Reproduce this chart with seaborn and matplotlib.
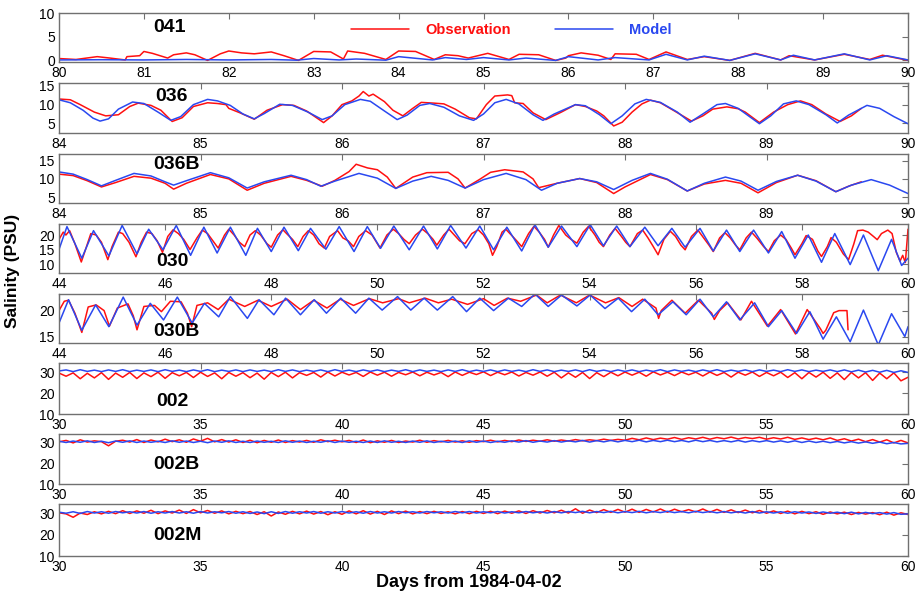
import matplotlib

matplotlib.use("Agg")
import matplotlib.pyplot as plt
import numpy as np
import pandas as pd
import seaborn as sns

# Style
sns.set_style("white")
plt.rcParams["font.family"] = ["Liberation Sans", "DejaVu Sans"]
plt.rcParams["text.color"] = "black"
plt.rcParams["axes.labelcolor"] = "black"
plt.rcParams["xtick.color"] = "black"
plt.rcParams["ytick.color"] = "black"

OBS_COLOR = "#ff1010"
MOD_COLOR = "#2a48f0"
FRAME_COLOR = "#707070"

# ---------------------------------------------------------------
# Data: (day, salinity) vertices
# ---------------------------------------------------------------
OBS_041 = [(80.0, 0.4), (80.2, 0.2), (80.45, 0.8), (80.6, 0.5), (80.78, 0.1), (80.8, 0.8),
           (80.95, 1.0), (81.0, 1.9), (81.1, 1.5), (81.28, 0.5), (81.35, 1.2), (81.5, 1.6),
           (81.6, 1.2), (81.75, 0.0), (81.9, 1.4), (82.0, 2.0), (82.15, 1.6), (82.3, 1.4),
           (82.5, 1.8), (82.65, 1.0), (82.82, 0.0), (83.0, 1.9), (83.2, 1.8), (83.35, 0.3),
           (83.4, 2.0), (83.6, 1.5), (83.85, 0.2), (84.0, 2.0), (84.2, 1.9), (84.42, 0.2),
           (84.55, 1.2), (84.7, 1.0), (84.82, 0.5), (85.05, 1.5), (85.3, 0.2), (85.42, 1.3),
           (85.65, 1.2), (85.85, 0.0), (85.97, 0.5), (86.0, 1.0), (86.15, 1.6), (86.35, 1.1),
           (86.5, 0.2), (86.55, 1.4), (86.8, 1.3), (86.95, 0.2), (87.15, 1.8), (87.4, 0.2),
           (87.6, 0.8), (87.9, 0.0), (88.2, 1.5), (88.5, 0.1), (88.6, 1.0), (88.9, 0.1),
           (89.25, 1.3), (89.55, 0.2), (89.7, 1.1), (89.95, 0.2), (90.0, 0.1)]
MOD_041 = [(80.0, 0.1), (80.5, 0.15), (81.0, 0.1), (81.5, 0.2), (82.0, 0.1), (82.5, 0.2),
           (82.8, 0.05), (83.0, 0.4), (83.3, 0.1), (83.5, 0.3), (83.85, 0.05), (84.0, 0.8),
           (84.4, 0.1), (84.55, 0.6), (84.8, 0.2), (85.0, 0.6), (85.3, 0.1), (85.5, 0.5),
           (85.85, 0.0), (86.0, 0.8), (86.35, 0.1), (86.55, 0.6), (86.95, 0.1), (87.15, 1.3),
           (87.4, 0.1), (87.6, 0.9), (87.9, 0.0), (88.2, 1.4), (88.5, 0.1), (88.65, 1.1),
           (88.9, 0.1), (89.25, 1.4), (89.55, 0.1), (89.75, 1.0), (90.0, 0.1)]

OBS_036 = [(84.0, 11.5), (84.08, 11.3), (84.15, 10.0), (84.25, 8.0), (84.33, 7.0), (84.42, 7.3),
           (84.5, 9.5), (84.56, 10.4), (84.65, 9.8), (84.72, 8.5), (84.8, 5.5), (84.87, 6.5),
           (84.95, 9.5), (85.05, 10.5), (85.12, 10.3), (85.18, 10.0), (85.2, 9.0), (85.28, 7.8),
           (85.38, 6.1), (85.47, 8.5), (85.58, 10.0), (85.66, 9.8), (85.75, 8.3), (85.87, 5.2),
           (85.93, 7.0), (86.0, 10.0), (86.07, 11.0), (86.12, 12.3), (86.15, 13.5), (86.19, 12.3),
           (86.22, 12.8), (86.3, 10.8), (86.36, 8.5), (86.43, 7.0), (86.5, 9.0), (86.56, 10.6),
           (86.65, 10.4), (86.72, 10.2), (86.8, 8.8), (86.9, 6.5), (86.95, 6.2), (87.02, 10.0),
           (87.08, 12.3), (87.17, 12.6), (87.2, 12.4), (87.22, 10.5), (87.28, 10.3), (87.35, 7.8),
           (87.44, 6.0), (87.55, 8.0), (87.65, 10.0), (87.72, 9.5), (87.8, 8.3), (87.85, 7.0),
           (87.92, 4.3), (87.98, 5.3), (88.05, 8.0), (88.12, 10.2), (88.18, 11.2), (88.25, 10.5),
           (88.35, 8.3), (88.47, 5.6), (88.55, 7.0), (88.62, 8.8), (88.72, 9.4), (88.8, 8.9),
           (88.85, 8.0), (88.95, 5.2), (89.05, 8.0), (89.15, 10.0), (89.24, 11.0), (89.32, 10.0),
           (89.42, 7.5), (89.52, 5.5), (89.6, 7.0), (89.67, 9.0)]
MOD_036 = [(84.0, 11.3), (84.08, 10.5), (84.17, 8.5), (84.24, 6.4), (84.29, 5.6), (84.35, 6.2),
           (84.42, 8.8), (84.52, 10.7), (84.6, 10.3), (84.7, 8.0), (84.79, 5.8), (84.86, 6.8),
           (84.95, 10.0), (85.05, 11.4), (85.12, 11.0), (85.21, 9.8), (85.3, 7.5), (85.38, 6.2),
           (85.45, 7.6), (85.56, 10.1), (85.65, 9.8), (85.76, 8.0), (85.86, 6.0), (85.93, 7.0),
           (86.02, 10.0), (86.13, 11.4), (86.2, 10.9), (86.3, 8.3), (86.39, 6.0), (86.46, 7.2),
           (86.55, 9.8), (86.62, 10.3), (86.72, 9.3), (86.83, 7.0), (86.93, 5.8), (87.0, 7.5),
           (87.08, 10.5), (87.16, 11.4), (87.25, 10.2), (87.35, 7.3), (87.42, 5.8), (87.5, 7.5),
           (87.65, 10.0), (87.72, 9.7), (87.82, 7.3), (87.9, 4.9), (87.98, 7.0), (88.07, 10.2),
           (88.15, 11.4), (88.25, 10.6), (88.37, 8.0), (88.46, 5.3), (88.55, 7.5), (88.65, 10.0),
           (88.71, 10.3), (88.8, 9.0), (88.88, 6.8), (88.95, 4.9), (89.03, 7.0), (89.12, 10.2),
           (89.21, 11.0), (89.3, 10.0), (89.42, 7.3), (89.5, 5.1), (89.58, 7.2), (89.71, 9.8),
           (89.8, 9.0), (89.9, 6.8), (90.0, 4.9)]

OBS_036B = [(84.0, 11.3), (84.1, 10.9), (84.2, 9.5), (84.3, 7.8), (84.4, 9.0), (84.53, 10.7),
            (84.65, 10.2), (84.75, 8.8), (84.81, 7.2), (84.9, 8.8), (85.07, 11.2), (85.2, 10.0),
            (85.33, 6.9), (85.45, 8.8), (85.64, 10.7), (85.75, 9.6), (85.86, 8.0), (85.95, 9.6),
            (86.05, 12.0), (86.1, 14.0), (86.18, 13.0), (86.25, 12.5), (86.32, 10.5), (86.38, 7.4),
            (86.5, 10.5), (86.6, 11.7), (86.75, 11.8), (86.82, 10.0), (86.87, 7.5), (86.97, 9.8),
            (87.05, 11.8), (87.15, 12.5), (87.28, 11.9), (87.35, 10.0), (87.39, 7.6), (87.52, 8.8),
            (87.68, 10.1), (87.8, 9.0), (87.88, 7.0), (87.92, 6.0), (88.0, 7.8), (88.18, 11.2),
            (88.3, 9.8), (88.44, 6.7), (88.56, 8.6), (88.71, 9.6), (88.82, 8.8), (88.94, 6.2),
            (89.07, 9.0), (89.22, 11.0), (89.35, 9.5), (89.49, 6.5), (89.58, 8.0), (89.67, 9.2)]
MOD_036B = [(84.0, 11.9), (84.1, 11.3), (84.2, 9.8), (84.3, 8.1), (84.4, 9.6), (84.53, 11.5),
            (84.65, 10.8), (84.75, 9.2), (84.81, 8.3), (84.9, 9.5), (85.07, 11.7), (85.2, 10.3),
            (85.33, 7.5), (85.45, 9.2), (85.64, 11.0), (85.75, 9.8), (85.85, 8.0), (85.95, 9.4),
            (86.12, 11.5), (86.25, 10.2), (86.38, 7.4), (86.5, 9.4), (86.63, 10.7), (86.75, 9.6),
            (86.87, 7.5), (87.0, 9.8), (87.16, 11.5), (87.3, 9.8), (87.41, 6.9), (87.52, 8.8),
            (87.68, 10.1), (87.8, 9.2), (87.92, 7.1), (88.05, 9.6), (88.18, 11.5), (88.3, 9.9),
            (88.44, 6.7), (88.56, 8.8), (88.71, 10.5), (88.82, 9.4), (88.94, 6.9), (89.07, 9.3),
            (89.22, 11.0), (89.35, 9.4), (89.49, 6.5), (89.6, 8.3), (89.74, 9.8), (89.87, 8.3),
            (90.0, 6.0)]

OBS_030 = [(44.0, 18.5), (44.08, 21.0), (44.13, 20.0), (44.2, 21.5), (44.3, 17.0), (44.42, 10.7),
           (44.5, 15.0), (44.6, 20.5), (44.7, 20.0), (44.8, 17.5), (44.92, 11.5), (45.0, 16.0),
           (45.12, 21.0), (45.2, 20.5), (45.32, 17.5), (45.45, 12.5), (45.55, 17.5), (45.65, 21.0),
           (45.75, 20.5), (45.85, 18.0), (45.95, 14.0), (46.05, 19.5), (46.15, 21.8), (46.25, 20.5),
           (46.35, 18.5), (46.47, 15.0), (46.6, 19.0), (46.7, 21.7), (46.8, 20.5), (46.9, 18.0),
           (47.0, 15.5), (47.12, 20.0), (47.2, 22.0), (47.3, 20.0), (47.4, 17.5), (47.5, 16.0),
           (47.6, 20.0), (47.7, 21.5), (47.8, 20.0), (47.92, 17.0), (48.0, 15.8), (48.12, 20.0),
           (48.22, 21.8), (48.3, 20.3), (48.4, 18.5), (48.5, 16.0), (48.6, 19.5), (48.7, 21.5),
           (48.8, 20.0), (48.9, 17.0), (49.0, 15.5), (49.1, 19.5), (49.25, 21.5), (49.35, 19.0),
           (49.45, 18.0), (49.55, 16.0), (49.65, 19.5), (49.78, 21.5), (49.9, 20.0), (50.0, 17.0),
           (50.05, 15.5), (50.18, 20.0), (50.3, 22.0), (50.4, 20.5), (50.5, 18.5), (50.6, 17.0),
           (50.72, 20.0), (50.85, 22.0), (50.95, 20.5), (51.05, 18.5), (51.12, 16.5), (51.25, 20.0),
           (51.35, 22.0), (51.45, 20.0), (51.55, 18.0), (51.65, 17.0), (51.78, 20.5), (51.9, 21.8),
           (52.0, 20.0), (52.1, 17.0), (52.17, 13.0), (52.25, 16.0), (52.35, 21.0), (52.42, 22.0),
           (52.55, 19.5), (52.65, 17.5), (52.72, 16.0), (52.85, 20.5), (52.95, 23.0), (53.05, 21.0),
           (53.15, 18.5), (53.22, 15.8), (53.32, 20.0), (53.42, 23.3), (53.55, 20.0), (53.65, 18.5),
           (53.76, 17.2), (53.88, 21.0), (53.98, 23.0), (54.1, 20.0), (54.18, 17.5), (54.26, 16.0),
           (54.38, 20.0), (54.48, 22.3), (54.6, 19.5), (54.68, 17.5), (54.76, 16.0), (54.9, 20.5),
           (55.0, 21.7), (55.1, 19.0), (55.2, 16.0), (55.29, 13.2), (55.4, 18.5), (55.52, 21.3),
           (55.62, 19.5), (55.72, 16.5), (55.8, 14.9), (55.92, 19.5), (56.04, 21.7), (56.15, 19.0),
           (56.25, 16.5), (56.33, 14.3), (56.45, 19.0), (56.55, 20.8), (56.65, 19.0), (56.75, 16.5),
           (56.83, 14.9), (56.95, 19.0), (57.05, 21.0), (57.15, 19.0), (57.28, 16.0), (57.37, 14.3),
           (57.48, 18.0), (57.6, 20.0), (57.7, 18.5), (57.8, 15.5), (57.87, 13.2), (58.0, 17.0),
           (58.08, 19.8), (58.2, 18.5), (58.3, 14.5), (58.37, 12.6), (58.48, 16.0), (58.55, 19.1),
           (58.65, 17.5), (58.78, 13.5), (58.88, 11.5), (58.98, 17.0), (59.05, 21.5), (59.15, 21.7),
           (59.25, 21.0), (59.35, 19.5), (59.42, 18.4), (59.5, 20.5), (59.62, 21.7), (59.7, 20.5),
           (59.78, 14.0), (59.85, 11.0), (59.9, 13.0), (59.95, 10.5), (60.0, 22.0)]
MOD_030 = [(44.0, 15.0), (44.15, 22.9), (44.43, 12.0), (44.65, 21.5), (44.94, 12.8), (45.19, 23.3),
           (45.47, 13.5), (45.69, 22.0), (45.96, 14.9), (46.21, 23.3), (46.48, 13.0), (46.73, 22.7),
           (46.98, 13.8), (47.23, 22.7), (47.52, 13.0), (47.74, 22.3), (48.0, 14.3), (48.24, 22.7),
           (48.51, 14.6), (48.74, 22.3), (49.03, 15.1), (49.28, 22.9), (49.56, 14.3), (49.81, 22.9),
           (50.06, 15.4), (50.31, 23.1), (50.6, 14.9), (50.87, 23.1), (51.13, 15.2), (51.38, 23.3),
           (51.67, 15.5), (51.93, 23.1), (52.19, 14.9), (52.44, 22.7), (52.72, 14.5), (52.97, 23.5),
           (53.22, 15.8), (53.47, 23.1), (53.76, 16.0), (54.01, 23.6), (54.26, 16.3), (54.51, 23.1),
           (54.76, 16.0), (55.04, 22.7), (55.29, 16.3), (55.55, 22.3), (55.8, 15.8), (56.08, 22.3),
           (56.33, 14.5), (56.58, 21.7), (56.83, 14.3), (57.09, 21.7), (57.37, 13.8), (57.62, 21.2),
           (57.87, 12.0), (58.12, 20.0), (58.37, 10.6), (58.62, 20.5), (58.91, 9.8), (59.16, 20.0),
           (59.44, 7.7), (59.69, 18.5), (59.88, 9.5), (60.0, 12.0)]

OBS_030B = [(44.0, 20.0), (44.1, 21.8), (44.18, 22.0), (44.3, 19.5), (44.43, 15.8), (44.55, 20.7),
            (44.7, 21.1), (44.85, 20.0), (44.95, 17.0), (45.1, 20.5), (45.3, 21.3), (45.4, 19.0),
            (45.47, 16.3), (45.6, 20.8), (45.8, 21.0), (45.93, 19.8), (46.1, 21.8), (46.3, 21.7),
            (46.42, 19.5), (46.5, 16.9), (46.6, 21.0), (46.8, 21.5), (47.0, 20.2), (47.2, 22.2),
            (47.5, 20.8), (47.75, 22.0), (48.0, 20.8), (48.3, 22.2), (48.55, 20.2), (48.8, 22.0),
            (49.05, 20.5), (49.3, 22.2), (49.55, 21.0), (49.85, 22.3), (50.1, 21.5), (50.4, 22.3),
            (50.6, 21.5), (50.9, 22.4), (51.15, 21.5), (51.4, 22.2), (51.7, 21.2), (52.0, 22.3),
            (52.2, 21.0), (52.45, 22.4), (52.7, 21.8), (53.0, 23.0), (53.2, 21.5), (53.45, 23.0),
            (53.75, 21.5), (54.0, 23.0), (54.3, 21.5), (54.55, 22.5), (54.8, 20.8), (55.0, 22.2),
            (55.25, 20.5), (55.3, 18.5), (55.35, 20.0), (55.55, 22.0), (55.8, 19.5), (56.05, 22.0),
            (56.3, 19.5), (56.35, 18.3), (56.45, 20.0), (56.6, 21.5), (56.85, 18.2), (57.05, 21.8),
            (57.35, 17.0), (57.6, 20.2), (57.88, 15.5), (58.1, 20.2), (58.35, 16.5), (58.4, 15.6),
            (58.45, 16.2), (58.6, 19.6), (58.7, 20.0), (58.85, 20.0), (58.87, 16.3)]
MOD_030B = [(44.0, 17.6), (44.18, 22.1), (44.43, 16.2), (44.69, 21.1), (44.94, 16.9), (45.21, 22.6),
            (45.47, 17.2), (45.72, 21.4), (45.97, 18.2), (46.23, 22.6), (46.51, 17.6), (46.74, 21.4),
            (47.01, 18.8), (47.23, 22.7), (47.55, 18.5), (47.77, 22.1), (48.05, 19.2), (48.27, 22.4),
            (48.55, 19.2), (48.81, 22.1), (49.04, 19.5), (49.31, 22.4), (49.59, 19.5), (49.84, 22.4),
            (50.09, 20.1), (50.38, 22.7), (50.63, 20.1), (50.88, 22.4), (51.13, 20.1), (51.42, 22.7),
            (51.68, 19.8), (51.93, 22.4), (52.19, 20.0), (52.47, 22.4), (52.72, 20.8), (52.97, 23.2),
            (53.22, 20.8), (53.47, 23.0), (53.76, 20.9), (54.01, 23.0), (54.29, 20.4), (54.54, 22.4),
            (54.79, 19.8), (55.04, 22.2), (55.29, 19.2), (55.57, 21.7), (55.82, 19.2), (56.08, 22.2),
            (56.33, 18.8), (56.58, 21.7), (56.83, 18.2), (57.11, 21.5), (57.37, 16.9), (57.62, 20.0),
            (57.9, 15.6), (58.15, 19.8), (58.4, 14.5), (58.65, 18.8), (58.91, 14.0), (59.16, 20.1),
            (59.44, 13.4), (59.69, 19.4), (59.94, 15.0), (60.0, 16.9)]

# Stations 002*: values every quarter day from day 30 to day 60
DAYS_002 = np.arange(121) * 0.25 + 30.0
OBS_002 = [29.5, 28.0, 29.6, 26.8, 29.4, 27.2, 29.7, 26.5, 29.5, 27.5,
           29.8, 26.9, 29.6, 27.8, 29.9, 27.0, 29.7, 28.2, 29.8, 27.4,
           29.9, 27.9, 29.6, 26.8, 29.8, 28.0, 29.7, 27.3, 29.5, 26.6,
           29.8, 27.8, 29.9, 27.2, 29.7, 28.4, 29.8, 27.6, 30.0, 28.1,
           29.9, 28.6, 29.8, 27.9, 30.0, 28.5, 29.9, 28.0, 29.8, 28.7,
           30.0, 28.2, 29.9, 28.6, 29.8, 27.8, 30.0, 28.4, 29.9, 28.8,
           30.1, 28.3, 29.9, 28.7, 30.0, 28.1, 29.8, 28.5, 30.0, 28.0,
           29.9, 27.2, 29.6, 27.5, 29.8, 26.9, 29.7, 27.8, 29.9, 28.2,
           30.0, 28.5, 29.9, 28.0, 30.1, 28.6, 29.9, 28.3, 30.0, 28.7,
           29.9, 28.1, 30.0, 28.4, 29.8, 27.6, 29.9, 28.5, 30.0, 27.9,
           29.8, 28.2, 29.9, 27.4, 29.7, 26.8, 29.8, 27.6, 29.9, 27.0,
           29.6, 26.4, 29.8, 27.2, 29.7, 26.0, 29.5, 26.8, 29.6, 25.8,
           27.5]
MOD_002 = [30.5, 31.0, 30.2, 31.1, 30.3, 30.9, 30.2, 31.0, 30.3, 31.1,
           30.2, 30.9, 30.3, 31.0, 30.2, 31.1, 30.3, 30.9, 30.2, 31.0,
           30.3, 31.1, 30.2, 30.9, 30.3, 31.0, 30.2, 31.0, 30.3, 30.9,
           30.2, 31.1, 30.3, 31.0, 30.2, 30.9, 30.3, 31.0, 30.2, 31.1,
           30.3, 30.9, 30.2, 31.0, 30.3, 31.0, 30.2, 30.9, 30.3, 31.1,
           30.2, 31.0, 30.3, 30.9, 30.2, 31.0, 30.3, 31.1, 30.2, 30.9,
           30.3, 31.0, 30.2, 31.0, 30.3, 30.9, 30.2, 31.1, 30.3, 31.0,
           30.2, 30.9, 30.3, 31.0, 30.2, 31.1, 30.3, 30.9, 30.2, 31.0,
           30.3, 31.0, 30.2, 30.9, 30.3, 31.1, 30.2, 31.0, 30.3, 30.9,
           30.2, 31.0, 30.3, 31.1, 30.2, 30.9, 30.3, 31.0, 30.2, 31.0,
           30.3, 30.9, 30.2, 31.1, 30.3, 31.0, 30.2, 30.9, 30.3, 31.0,
           30.2, 31.0, 30.1, 30.9, 30.0, 30.8, 29.9, 30.8, 29.8, 30.6,
           29.8]
OBS_002B = [30.5, 31.2, 30.0, 31.5, 30.4, 31.0, 30.6, 28.6, 30.8, 31.3,
            30.4, 31.6, 30.2, 31.4, 30.5, 31.8, 30.6, 31.5, 30.3, 31.9,
            30.8, 32.2, 30.5, 31.6, 30.4, 31.5, 30.2, 31.3, 30.1, 31.2,
            30.3, 31.4, 30.2, 31.1, 30.4, 31.2, 30.3, 31.5, 30.6, 31.3,
            30.5, 31.2, 30.2, 31.4, 30.1, 31.0, 30.3, 31.2, 30.2, 30.9,
            30.4, 31.3, 30.3, 31.1, 30.5, 31.2, 30.4, 31.0, 30.3, 31.1,
            30.6, 31.3, 30.5, 31.2, 30.6, 31.4, 30.7, 31.3, 30.8, 31.5,
            30.8, 31.4, 30.9, 31.6, 31.0, 31.5, 31.1, 31.8, 31.2, 31.7,
            31.3, 32.2, 31.5, 32.4, 31.6, 32.3, 31.8, 32.6, 31.7, 32.5,
            31.9, 32.7, 31.8, 32.6, 32.0, 32.8, 31.9, 32.6, 32.1, 32.7,
            31.8, 32.5, 31.9, 32.7, 31.7, 32.4, 31.6, 32.3, 31.5, 32.4,
            31.2, 32.0, 30.9, 31.8, 30.6, 31.6, 30.4, 31.5, 30.0, 31.2,
            30.0]
MOD_002B = [30.8, 30.2, 30.9, 30.3, 31.0, 30.2, 30.8, 30.1, 30.9, 30.3,
            31.0, 30.2, 30.9, 30.3, 30.8, 30.2, 31.0, 30.3, 30.9, 30.2,
            30.8, 30.1, 30.9, 30.3, 31.0, 30.2, 30.8, 30.2, 30.9, 30.3,
            30.8, 30.2, 31.0, 30.3, 30.9, 30.2, 30.8, 30.3, 31.0, 30.2,
            30.9, 30.3, 30.8, 30.2, 30.9, 30.2, 31.0, 30.3, 30.8, 30.2,
            30.9, 30.3, 31.0, 30.2, 30.8, 30.3, 30.9, 30.2, 31.0, 30.3,
            30.9, 30.2, 30.8, 30.3, 31.0, 30.4, 31.1, 30.3, 30.9, 30.4,
            31.1, 30.4, 31.0, 30.5, 31.2, 30.4, 31.1, 30.5, 31.2, 30.5,
            31.2, 30.6, 31.3, 30.5, 31.2, 30.6, 31.3, 30.6, 31.2, 30.5,
            31.3, 30.6, 31.2, 30.5, 31.1, 30.5, 31.2, 30.4, 31.1, 30.5,
            31.1, 30.4, 31.0, 30.3, 31.0, 30.2, 30.9, 30.2, 30.8, 30.1,
            30.7, 30.0, 30.6, 29.9, 30.5, 29.8, 30.4, 29.6, 30.2, 29.5,
            29.8]
OBS_002M = [30.3, 29.8, 28.2, 30.2, 29.5, 30.8, 29.8, 31.0, 29.9, 31.3,
            30.0, 31.2, 30.1, 31.5, 29.9, 31.2, 30.2, 31.6, 30.0, 31.8,
            30.3, 31.4, 30.1, 31.2, 29.8, 31.0, 29.9, 30.9, 29.5, 30.8,
            28.8, 30.7, 29.6, 31.0, 29.8, 31.1, 29.7, 30.9, 29.4, 30.8,
            29.6, 31.2, 29.8, 31.3, 29.7, 31.0, 29.5, 31.2, 29.9, 31.1,
            29.8, 30.9, 29.9, 31.0, 30.0, 30.8, 29.8, 30.9, 29.9, 31.0,
            30.0, 31.0, 29.9, 31.1, 30.1, 31.2, 30.0, 31.3, 30.2, 31.4,
            30.3, 31.5, 30.2, 32.2, 30.1, 31.6, 30.4, 31.8, 30.5, 31.9,
            30.6, 32.0, 30.5, 31.9, 30.7, 32.1, 30.6, 32.0, 30.8, 31.8,
            30.7, 32.1, 30.6, 31.9, 30.5, 31.7, 30.4, 31.6, 30.3, 31.4,
            30.1, 31.2, 30.0, 31.1, 29.8, 31.0, 29.9, 30.8, 29.6, 30.7,
            29.8, 30.6, 29.5, 30.5, 29.7, 30.4, 29.4, 30.6, 29.2, 30.3,
            29.5]
MOD_002M = [30.6, 30.1, 30.8, 30.0, 30.9, 30.2, 30.8, 30.1, 30.9, 30.3,
            30.8, 30.2, 30.9, 30.1, 30.8, 30.2, 30.9, 30.2, 30.8, 30.1,
            30.9, 30.2, 30.8, 30.3, 30.9, 30.1, 30.8, 30.0, 30.7, 29.9,
            30.8, 30.0, 30.9, 30.1, 30.8, 30.2, 30.9, 30.1, 30.8, 30.2,
            30.9, 30.2, 30.8, 30.1, 30.9, 30.2, 30.8, 30.2, 30.9, 30.3,
            30.8, 30.2, 30.9, 30.3, 30.8, 30.2, 30.9, 30.3, 30.9, 30.2,
            30.8, 30.3, 30.9, 30.2, 30.8, 30.3, 30.9, 30.3, 30.8, 30.2,
            30.9, 30.3, 30.9, 30.4, 31.0, 30.3, 30.9, 30.4, 31.0, 30.3,
            30.9, 30.4, 31.0, 30.3, 30.9, 30.4, 31.0, 30.4, 30.9, 30.3,
            31.0, 30.4, 30.9, 30.3, 30.9, 30.3, 30.8, 30.2, 30.9, 30.2,
            30.8, 30.2, 30.8, 30.1, 30.8, 30.2, 30.7, 30.0, 30.7, 30.1,
            30.6, 29.9, 30.6, 29.8, 30.5, 29.9, 30.4, 29.7, 30.4, 29.6,
            29.8]


def to_frame(series):
    # series is either a list of (day, value) pairs or a plain list on the 002 grid
    if isinstance(series[0], tuple):
        return pd.DataFrame(series, columns=["day", "salinity"])
    return pd.DataFrame({"day": DAYS_002, "salinity": series})


# name, obs, model, xlim, xticks, ylim, yticks, label (x, y) in axes fraction, top/bottom px
PANELS = [
    ("041", OBS_041, MOD_041, (80, 90), np.arange(80, 91, 1), (-0.4, 10), [0, 5, 10], (0.111, 0.70), (13.3, 62.3)),
    ("036", OBS_036, MOD_036, (84, 90), np.arange(84, 91, 1), (2.5, 15.7), [5, 10, 15], (0.113, 0.74), (83.3, 132.7)),
    ("036B", OBS_036B, MOD_036B, (84, 90), np.arange(84, 91, 1), (3.5, 16.8), [5, 10, 15], (0.111, 0.79), (154.0, 202.7)),
    ("030", OBS_030, MOD_030, (44, 60), np.arange(44, 61, 2), (6.8, 23.8), [10, 15, 20], (0.115, 0.23), (224.0, 273.3)),
    ("030B", OBS_030B, MOD_030B, (44, 60), np.arange(44, 61, 2), (13.7, 23.2), [15, 20], (0.111, 0.23), (294.0, 343.3)),
    ("002", OBS_002, MOD_002, (30, 60), np.arange(30, 61, 5), (10, 34.3), [10, 20, 30], (0.115, 0.24), (363.0, 414.0)),
    ("002B", OBS_002B, MOD_002B, (30, 60), np.arange(30, 61, 5), (10, 34.3), [10, 20, 30], (0.111, 0.40), (434.0, 484.3)),
    ("002M", OBS_002M, MOD_002M, (30, 60), np.arange(30, 61, 5), (10, 34.3), [10, 20, 30], (0.111, 0.40), (504.3, 556.0)),
]

W, H = 920, 599
LEFT_PX, RIGHT_PX = 59, 908

fig = plt.figure(figsize=(W / 100, H / 100), dpi=100)

axes = []
for name, obs, mod, xlim, xticks, ylim, yticks, lab_pos, (top_px, bot_px) in PANELS:
    ax = fig.add_axes([LEFT_PX / W, 1 - bot_px / H, (RIGHT_PX - LEFT_PX) / W, (bot_px - top_px) / H])
    sns.lineplot(data=to_frame(obs), x="day", y="salinity", color=OBS_COLOR, lw=1.1,
                 estimator=None, sort=False, ax=ax, label="Observation")
    sns.lineplot(data=to_frame(mod), x="day", y="salinity", color=MOD_COLOR, lw=1.1,
                 estimator=None, sort=False, ax=ax, label="Model")
    ax.set_xlim(*xlim)
    ax.set_ylim(*ylim)
    ax.set_xticks(xticks)
    ax.set_yticks(yticks)
    ax.set_xlabel("")
    ax.set_ylabel("")
    ax.tick_params(direction="in", length=4, width=0.8, color=FRAME_COLOR,
                   top=True, right=True, labelsize=10, pad=3, labelcolor="black")
    for spine in ax.spines.values():
        spine.set_color(FRAME_COLOR)
        spine.set_linewidth(1.0)
    ax.text(lab_pos[0], lab_pos[1], name, transform=ax.transAxes, ha="left", va="center",
            fontsize=14, fontweight="bold", color="black")
    ax.get_legend().remove()
    axes.append(ax)

# Legend in the first panel
handles, labels = axes[0].get_legend_handles_labels()
leg = axes[0].legend(handles, labels, loc="center left", bbox_to_anchor=(0.344, 0.66), ncol=2,
                     frameon=False, handlelength=4.0, handletextpad=1.1, columnspacing=3.0,
                     borderaxespad=0, borderpad=0, prop={"weight": "bold", "size": 10.5})
for text, color in zip(leg.get_texts(), [OBS_COLOR, MOD_COLOR]):
    text.set_color(color)

fig.text(0.014, 0.548, "Salinity (PSU)", rotation=90, ha="center", va="center",
         fontsize=12.5, fontweight="bold", color="black")
fig.text(0.51, 0.027, "Days from 1984-04-02", ha="center", va="center",
         fontsize=13, fontweight="bold", color="black")

fig.savefig("out.png", dpi=100)
